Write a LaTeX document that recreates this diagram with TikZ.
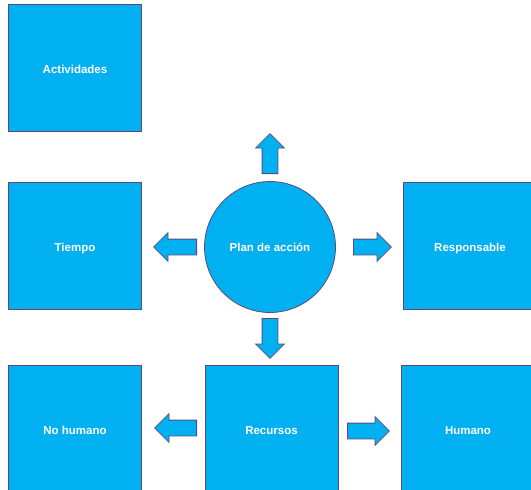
\documentclass[tikz,border=0pt]{standalone}
\usepackage{fontspec}
\setmainfont{Liberation Sans}
\usetikzlibrary{shapes.arrows}

\definecolor{planfill}{HTML}{00B0F0}
\definecolor{planline}{HTML}{5F497A}

\tikzset{
  box/.style={draw=planline,fill=planfill,line width=0.8pt,minimum width=133pt,minimum height=127pt,
    inner sep=0pt,text=white,text height=11pt,text depth=0pt,font=\bfseries\fontsize{11.5}{13}\selectfont},
  blockarrow/.style={single arrow,draw=planline,fill=planfill,line width=0.8pt,inner sep=7.5pt,
    single arrow head extend=6.5pt,minimum height=#1,anchor=tail}
}

\begin{document}
\begin{tikzpicture}[x=1pt,y=-1pt]
                \useasboundingbox (0,0) rectangle (531,490);
                \clip (0,0) rectangle (531,490);
                % top row
                \node[box] (actividades) at (75,67.5) {Actividades};
                % middle row
                \node[box] (tiempo) at (75,246) {Tiempo};
                \node[draw=planline,fill=planfill,line width=0.8pt,circle,minimum size=131pt,inner sep=0pt,
                    text=white,text height=9pt,text depth=0pt,font=\bfseries\fontsize{11.5}{13}\selectfont] (plan) at (270,247) {Plan de acción};
                \node[box] (responsable) at (470,246) {Responsable};
                % bottom row
                \node[box] (nohumano) at (75,428.5) {No humano};
                \node[box] (recursos) at (271.5,428.5) {Recursos};
                \node[box] (humano) at (468,428.5) {Humano};
                % arrows round the plan
                \node[blockarrow=40pt,rotate=90] (aup) at (270,174) {};
                \node[blockarrow=40pt,rotate=-90] (adown) at (270,318) {};
                \node[blockarrow=43pt,shape border rotate=180] (aleft) at (197,247) {};
                \node[blockarrow=38pt] (aright) at (353,247) {};
                % arrows from the resources
                \node[blockarrow=42pt,shape border rotate=180] (anohumano) at (197,428) {};
                \node[blockarrow=42pt] (ahumano) at (347,431) {};
            \end{tikzpicture}
\end{document}
